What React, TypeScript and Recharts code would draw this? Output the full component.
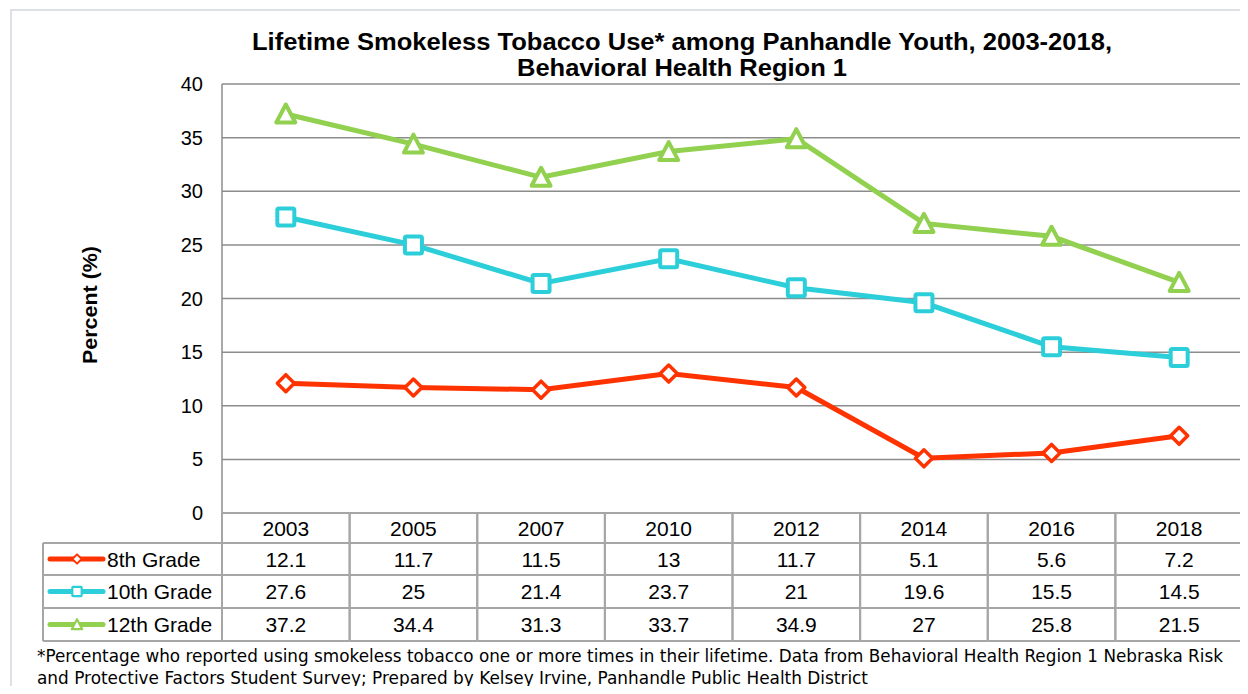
import React from "react";
import { LineChart, Line, XAxis, YAxis, CartesianGrid } from "recharts";

const years = ["2003", "2005", "2007", "2010", "2012", "2014", "2016", "2018"];
const grade8 = [12.1, 11.7, 11.5, 13, 11.7, 5.1, 5.6, 7.2];
const grade10 = [27.6, 25, 21.4, 23.7, 21, 19.6, 15.5, 14.5];
const grade12 = [37.2, 34.4, 31.3, 33.7, 34.9, 27, 25.8, 21.5];
const yTicks = [0, 5, 10, 15, 20, 25, 30, 35, 40];

const seriesNames = ["8th Grade", "10th Grade", "12th Grade"];
const seriesKeys = ["g8", "g10", "g12"];
const seriesValues = [grade8, grade10, grade12];
const seriesColors = ["#ff3300", "#2ccfd9", "#92d050"];
const seriesShapes = ["diamond", "square", "triangle"];

const titleLines = [
  "Lifetime Smokeless Tobacco Use* among Panhandle Youth, 2003-2018,",
  "Behavioral Health Region 1",
];
const footnoteLines = [
  "*Percentage who reported using smokeless tobacco one or more times in their lifetime. Data from Behavioral Health Region 1 Nebraska Risk",
  "and Protective Factors Student Survey; Prepared by Kelsey Irvine, Panhandle Public Health District",
];

const data = years.map((year, i) => ({
  year,
  g8: grade8[i],
  g10: grade10[i],
  g12: grade12[i],
}));

// layout
const W = 1248;
const H = 694;
const PLOT = { left: 222, top: 84, right: 1243, bottom: 513 };
const ROWS = [513, 543, 575, 608, 641];
const LEGEND_LEFT = 43;
const GRID = "#8c8c8c";
const BORDER = "#a6a6a6";
const FONT = "'Liberation Sans', Arial, sans-serif";

const Marker = ({ shape, cx, cy, color }: any) => {
  if (cx == null || cy == null) return null;
  if (shape === "diamond") {
    const r = 8.5;
    return (
      <polygon
        points={`${cx},${cy - r} ${cx + r},${cy} ${cx},${cy + r} ${cx - r},${cy}`}
        fill="#fff"
        stroke={color}
        strokeWidth={3.5}
        strokeLinejoin="round"
      />
    );
  }
  if (shape === "square") {
    const s = 8.5;
    return (
      <rect
        x={cx - s}
        y={cy - s}
        width={s * 2}
        height={s * 2}
        rx={1.5}
        fill="#fff"
        stroke={color}
        strokeWidth={4}
      />
    );
  }
  const hw = 9.5;
  return (
    <polygon
      points={`${cx},${cy - 9.5} ${cx + hw},${cy + 8.5} ${cx - hw},${cy + 8.5}`}
      fill="#fff"
      stroke={color}
      strokeWidth={4}
      strokeLinejoin="round"
    />
  );
};

// each x-axis tick draws one column of the data table
const TableColumn = (props: any) => {
  const { x, payload, index } = props;
  const bw = (PLOT.right - PLOT.left) / years.length;
  const left = x - bw / 2;
  const right = x + bw / 2;
  const i = payload?.index ?? index;
  return (
    <g>
      {ROWS.map((ry) => (
        <line key={ry} x1={left} x2={right} y1={ry} y2={ry} stroke={BORDER} strokeWidth={2} />
      ))}
      <line x1={left} x2={left} y1={ROWS[0]} y2={ROWS[4]} stroke={BORDER} strokeWidth={2} />
      <line x1={right} x2={right} y1={ROWS[0]} y2={ROWS[4]} stroke={BORDER} strokeWidth={2} />
      <text x={x} y={(ROWS[0] + ROWS[1]) / 2 + 7.5} textAnchor="middle" fontSize={21} fill="#000" fontFamily={FONT}>
        {payload.value}
      </text>
      {seriesValues.map((vals, r) => (
        <text
          key={r}
          x={x}
          y={(ROWS[r + 1] + ROWS[r + 2]) / 2 + 7.5}
          textAnchor="middle"
          fontSize={21}
          fill="#000"
          fontFamily={FONT}
        >
          {vals[i]}
        </text>
      ))}
    </g>
  );
};

const Overlay = () => (
  <svg
    width={W}
    height={H}
    style={{ position: "absolute", left: 0, top: 0, pointerEvents: "none" }}
  >
    <rect x={11} y={10} width={W + 20} height={H + 20} fill="none" stroke="#dde1e6" strokeWidth={2} />
    {titleLines.map((t, i) => (
      <text
        key={i}
        x={682}
        y={50 + i * 26}
        textAnchor="middle"
        fontSize={23}
        fontWeight="bold"
        fill="#000"
        fontFamily={FONT}
        textLength={i === 0 ? 860 : 330}
        lengthAdjust="spacingAndGlyphs"
      >
        {t}
      </text>
    ))}
    <text
      transform="translate(97,305) rotate(-90)"
      textAnchor="middle"
      fontSize={20}
      fontWeight="bold"
      fill="#000"
      fontFamily={FONT}
      textLength={118}
      lengthAdjust="spacingAndGlyphs"
    >
      Percent (%)
    </text>
    {/* legend column of the table */}
    {seriesNames.map((name, r) => {
      const top = ROWS[r + 1];
      const bot = ROWS[r + 2];
      const cy = (top + bot) / 2;
      return (
        <g key={name}>
          <line x1={LEGEND_LEFT} x2={PLOT.left} y1={top} y2={top} stroke={BORDER} strokeWidth={2} />
          <line x1={LEGEND_LEFT} x2={PLOT.left} y1={bot} y2={bot} stroke={BORDER} strokeWidth={2} />
          <line x1={LEGEND_LEFT} x2={LEGEND_LEFT} y1={top} y2={bot} stroke={BORDER} strokeWidth={2} />
          <line x1={50} x2={103} y1={cy} y2={cy} stroke={seriesColors[r]} strokeWidth={5} strokeLinecap="round" />
          <g transform={`translate(${77},${cy}) scale(0.55) translate(${-77},${-cy})`}>
            <Marker shape={seriesShapes[r]} cx={77} cy={cy} color={seriesColors[r]} />
          </g>
          <text x={107} y={cy + 7.5} fontSize={21} fill="#000" fontFamily={FONT}>
            {name}
          </text>
        </g>
      );
    })}
    {footnoteLines.map((t, i) => (
      <text
        key={i}
        x={37}
        y={662 + i * 22}
        fontSize={17}
        fill="#000"
        fontFamily="'DejaVu Sans', sans-serif"
        textLength={i === 0 ? 1186 : 831}
        lengthAdjust="spacingAndGlyphs"
      >
        {t}
      </text>
    ))}
  </svg>
);

const App: React.FC = () => (
  <div style={{ position: "relative", width: W, height: H, margin: -8, background: "#fff" }}>
    <LineChart
      width={W}
      height={H}
      data={data}
      margin={{ top: PLOT.top, right: W - PLOT.right, left: PLOT.left - 60, bottom: H - PLOT.bottom - 130 }}
    >
      <CartesianGrid vertical={false} stroke={GRID} strokeWidth={1.5} />
      <XAxis
        dataKey="year"
        scale="band"
        height={130}
        axisLine={false}
        tickLine={false}
        interval={0}
        tick={<TableColumn />}
      />
      <YAxis
        width={60}
        domain={[0, 40]}
        ticks={yTicks}
        interval={0}
        axisLine={{ stroke: GRID, strokeWidth: 1.5 }}
        tickLine={false}
        tickSize={0}
        tickMargin={19}
        tick={{ fontSize: 20, fill: "#000", fontFamily: FONT }}
      />
      {seriesKeys.map((key, r) => (
        <Line
          key={key}
          dataKey={key}
          name={seriesNames[r]}
          type="linear"
          stroke={seriesColors[r]}
          strokeWidth={5}
          isAnimationActive={false}
          dot={(p: any) => <Marker key={p.index} shape={seriesShapes[r]} cx={p.cx} cy={p.cy} color={seriesColors[r]} />}
        />
      ))}
    </LineChart>
    <Overlay />
  </div>
);

export default App;
